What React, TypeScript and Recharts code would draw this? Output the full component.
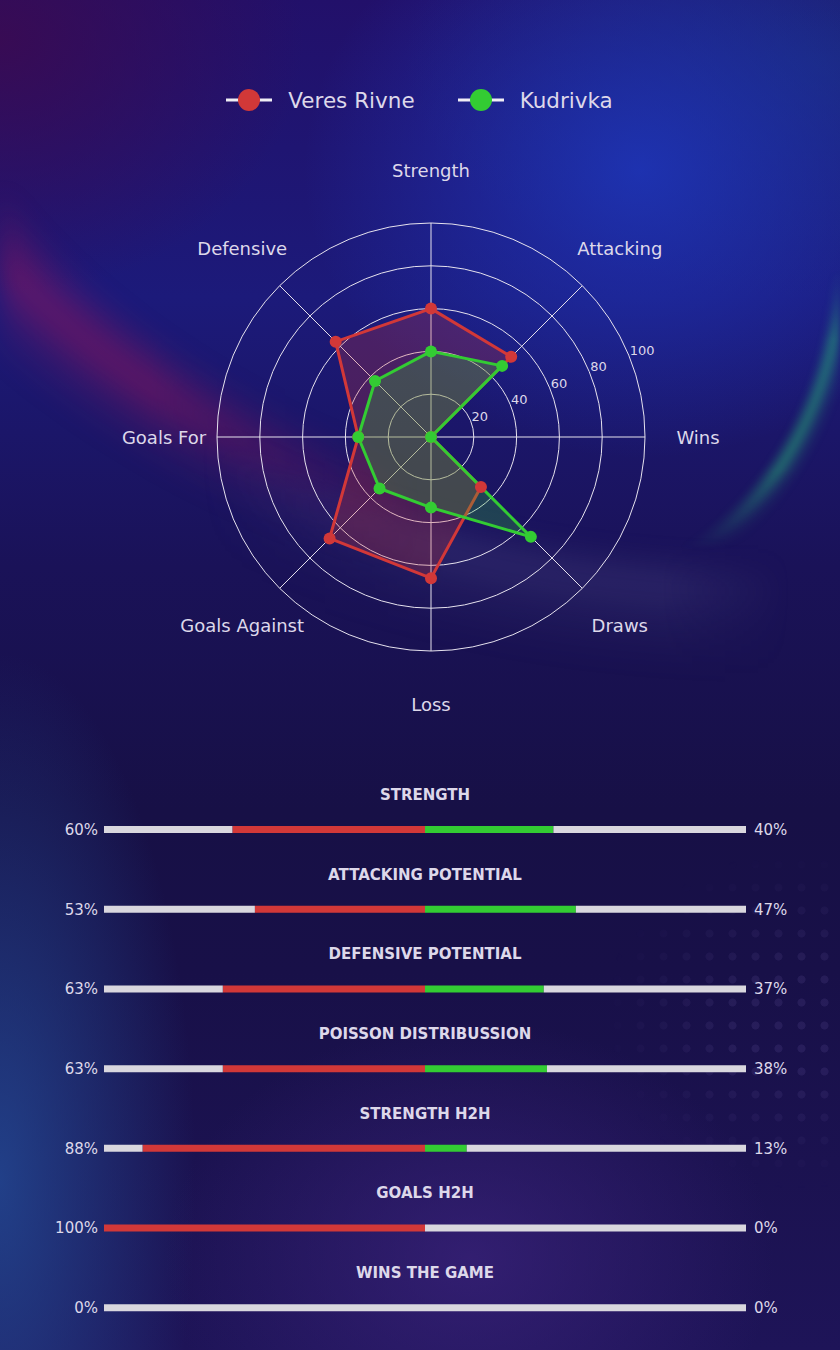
import React from 'react';
import {
  RadarChart,
  Radar,
  PolarGrid,
  PolarAngleAxis,
  PolarRadiusAxis,
  Legend,
  BarChart,
  Bar,
  XAxis,
  YAxis,
} from 'recharts';

// radar data
const axes = ['Strength', 'Attacking', 'Wins', 'Draws', 'Loss', 'Goals Against', 'Goals For', 'Defensive'];
const veresRivne = [60, 53, 0, 33, 66, 67, 34, 63];
const kudrivka = [40, 47, 0, 66, 33, 34, 34, 37];
const radiusTicks = [0, 20, 40, 60, 80, 100];

// comparison bars
const metrics = [
  'STRENGTH',
  'ATTACKING POTENTIAL',
  'DEFENSIVE POTENTIAL',
  'POISSON DISTRIBUSSION',
  'STRENGTH H2H',
  'GOALS H2H',
  'WINS THE GAME',
];
const homePct = [60, 53, 63, 63, 88, 100, 0];
const awayPct = [40, 47, 37, 38, 13, 0, 0];

const RED = '#d23838';
const GREEN = '#33cc33';
const GREY = '#d9d7de';
const TEXT = '#ddd8ea';
const FONT = '"DejaVu Sans", sans-serif';

const CX = 431;
const CY = 437;

const radarData = axes.map((a, i) => ({ axis: a, veres: veresRivne[i], kudrivka: kudrivka[i] }));

const barRows = metrics.map((m, i) => ({
  metric: m,
  home: -homePct[i],
  away: awayPct[i],
  homeRest: -(100 - homePct[i]),
  awayRest: 100 - awayPct[i],
}));

const AngleTick = (props: any) => {
  const { x, y, payload } = props;
  const dx = x - CX;
  const dy = y - CY;
  const len = Math.sqrt(dx * dx + dy * dy) || 1;
  const r = 267;
  return (
    <text
      x={CX + (dx / len) * r}
      y={CY + (dy / len) * r}
      textAnchor="middle"
      dominantBaseline="central"
      fill={TEXT}
      fontSize={18}
      fontFamily={FONT}
    >
      {payload.value}
    </text>
  );
};

const RadiusTick = (props: any) => {
  const { x, y, payload } = props;
  if (!payload.value) return null;
  return (
    <text x={x + 1} y={y} textAnchor="start" fill={TEXT} fontSize={13} fontFamily={FONT}>
      {payload.value}
    </text>
  );
};

const LegendContent = () => {
  const items = [
    { name: 'Veres Rivne', color: RED },
    { name: 'Kudrivka', color: GREEN },
  ];
  return (
    <div style={{ display: 'flex', justifyContent: 'center', gap: 42, marginLeft: -2 }}>
      {items.map((it) => (
        <div key={it.name} style={{ display: 'flex', alignItems: 'center' }}>
          <svg width={48} height={28}>
            <line x1={1} y1={14} x2={47} y2={14} stroke="#f0eef5" strokeWidth={3} />
            <circle cx={24} cy={14} r={11} fill={it.color} />
          </svg>
          <span style={{ marginLeft: 15, color: TEXT, fontSize: 21.5, fontFamily: FONT }}>{it.name}</span>
        </div>
      ))}
    </div>
  );
};

const MetricTick = (props: any) => {
  const { y, index, payload } = props;
  return (
    <g fontFamily={FONT} fontSize={15} fill={TEXT}>
      <text x={98} y={y} textAnchor="end" dominantBaseline="central" fill={TEXT}>
        {homePct[index]}%
      </text>
      <text x={425} y={y - 35} textAnchor="middle" dominantBaseline="central" fontWeight="bold" fill={TEXT}>
        {payload.value}
      </text>
      <text x={754} y={y} textAnchor="start" dominantBaseline="central" fill={TEXT}>
        {awayPct[index]}%
      </text>
    </g>
  );
};

const background = [
  'radial-gradient(ellipse 420px 360px at 640px 170px, rgba(30,55,190,0.8), rgba(30,55,190,0) 80%)',
  'radial-gradient(ellipse 520px 300px at 820px 60px, rgba(20,60,130,0.5), rgba(20,60,130,0) 80%)',
  'radial-gradient(ellipse 380px 320px at 0px 40px, rgba(60,10,80,0.85), rgba(60,10,80,0) 80%)',
  'radial-gradient(ellipse 230px 620px at 0px 1180px, rgba(35,75,150,0.8), rgba(35,75,150,0) 85%)',
  'radial-gradient(ellipse 380px 300px at 470px 1260px, rgba(60,35,125,0.7), rgba(60,35,125,0) 80%)',
  'linear-gradient(180deg, #22106a 0%, #1c1a7a 22%, #1a1258 42%, #171046 60%, #181048 72%, #1e1458 100%)',
].join(', ');

const sweep = (inner: string, mid: string, outer: string) =>
  `radial-gradient(ellipse 977px 740px at 760px -150px, rgba(0,0,0,0) ${inner}, ${mid}, ${outer})`;

export default function App() {
  return (
    <div
      style={{
        position: 'absolute',
        top: 0,
        left: 0,
        width: 840,
        height: 1350,
        overflow: 'hidden',
        background,
      }}
    >
      {/* red sweep on the left */}
      <div
        style={{
          position: 'absolute',
          inset: 0,
          background: sweep('90%', 'rgba(190,20,85,0.42) 95.5%, rgba(190,20,85,0.12) 100%', 'rgba(0,0,0,0) 104%'),
          WebkitMaskImage: 'linear-gradient(90deg, black 0px, black 150px, transparent 420px)',
          maskImage: 'linear-gradient(90deg, black 0px, black 150px, transparent 420px)',
          filter: 'blur(12px)',
        }}
      />
      {/* pale haze continuing the sweep */}
      <div
        style={{
          position: 'absolute',
          inset: 0,
          background: sweep('96%', 'rgba(140,140,190,0.16) 99%, rgba(120,130,180,0.06) 105%', 'rgba(0,0,0,0) 111%'),
          WebkitMaskImage: 'linear-gradient(90deg, transparent 200px, black 450px, black 660px, transparent 790px)',
          maskImage: 'linear-gradient(90deg, transparent 200px, black 450px, black 660px, transparent 790px)',
          filter: 'blur(14px)',
        }}
      />
      {/* green arc on the right */}
      <div
        style={{
          position: 'absolute',
          left: 680,
          top: 250,
          width: 160,
          height: 320,
          background:
            'radial-gradient(ellipse 286px 348px at -120px 0px, rgba(0,0,0,0) 95%, rgba(40,190,120,0.5) 99%, rgba(40,190,120,0.1) 103%, rgba(0,0,0,0) 106%)',
          WebkitMaskImage: 'linear-gradient(180deg, transparent 20px, black 90px, black 220px, transparent 300px)',
          maskImage: 'linear-gradient(180deg, transparent 20px, black 90px, black 220px, transparent 300px)',
          filter: 'blur(3px)',
        }}
      />
      {/* faint dot texture bottom right */}
      <div
        style={{
          position: 'absolute',
          left: 560,
          top: 830,
          width: 280,
          height: 360,
          background: 'radial-gradient(circle, rgba(140,120,200,0.13) 3.5px, rgba(0,0,0,0) 4.5px)',
          backgroundSize: '23px 23px',
          WebkitMaskImage: 'radial-gradient(ellipse 200px 170px at 240px 190px, black 30%, transparent 100%)',
          maskImage: 'radial-gradient(ellipse 200px 170px at 240px 190px, black 30%, transparent 100%)',
        }}
      />
      <div style={{ position: 'absolute', top: 0, left: 0 }}>
        <RadarChart width={840} height={740} data={radarData} cx={CX} cy={CY} outerRadius={214} margin={{ top: 0, right: 0, bottom: 0, left: 0 }}>
          <PolarGrid gridType="circle" stroke="#e6e2ee" strokeWidth={1} />
          <PolarAngleAxis dataKey="axis" tick={<AngleTick />} tickLine={false} axisLine={false} />
          <PolarRadiusAxis
            angle={22.5}
            domain={[0, 100]}
            ticks={radiusTicks as any}
            tick={<RadiusTick />}
            axisLine={false}
            tickLine={false}
          />
          <Radar
            name="Veres Rivne"
            dataKey="veres"
            stroke={RED}
            fill={RED}
            fillOpacity={0.25}
            strokeWidth={3}
            dot={{ r: 6, fill: RED, stroke: RED, strokeWidth: 0, fillOpacity: 1 }}
            isAnimationActive={false}
          />
          <Radar
            name="Kudrivka"
            dataKey="kudrivka"
            stroke={GREEN}
            fill={GREEN}
            fillOpacity={0.25}
            strokeWidth={3}
            dot={{ r: 6, fill: GREEN, stroke: GREEN, strokeWidth: 0, fillOpacity: 1 }}
            isAnimationActive={false}
          />
          <Legend verticalAlign="top" content={<LegendContent />} wrapperStyle={{ top: 86, left: 0, width: 840 }} />
        </RadarChart>
      </div>
      <div style={{ position: 'absolute', top: 760, left: 0 }}>
        <BarChart
          layout="vertical"
          width={840}
          height={592}
          data={barRows}
          stackOffset="sign"
          barSize={7}
          margin={{ top: 30, right: 94, bottom: 4, left: 44 }}
        >
          <XAxis type="number" domain={[-100, 100]} hide />
          <YAxis type="category" dataKey="metric" width={60} axisLine={false} tickLine={false} tick={<MetricTick />} interval={0} />
          <Bar dataKey="home" stackId="s" fill={RED} isAnimationActive={false} />
          <Bar dataKey="away" stackId="s" fill={GREEN} isAnimationActive={false} />
          <Bar dataKey="homeRest" stackId="s" fill={GREY} isAnimationActive={false} />
          <Bar dataKey="awayRest" stackId="s" fill={GREY} isAnimationActive={false} />
        </BarChart>
      </div>
    </div>
  );
}
